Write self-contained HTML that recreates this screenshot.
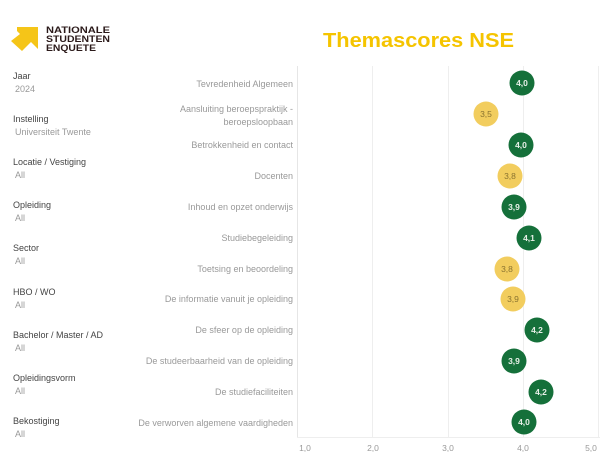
<!DOCTYPE html>
<html><head><meta charset="utf-8"><style>
html,body{margin:0;padding:0;background:#fff;}
svg{display:block;font-family:"Liberation Sans","DejaVu Sans",sans-serif;}
</style></head><body>
<svg width="600" height="460" viewBox="0 0 600 460">
<polygon points="17,27 38,27 38,49 31,42 22,51 11,41 20,34 17,31" fill="#f5c518"/>
<g fill="#2b1a1a" font-weight="bold" font-size="9.6">
<text x="46" y="33" textLength="64" lengthAdjust="spacingAndGlyphs">NATIONALE</text>
<text x="46" y="42" textLength="64" lengthAdjust="spacingAndGlyphs">STUDENTEN</text>
<text x="46" y="51" textLength="50" lengthAdjust="spacingAndGlyphs">ENQUETE</text>
</g>
<text x="323" y="47" font-size="20" font-weight="bold" fill="#f5c400" textLength="191" lengthAdjust="spacingAndGlyphs">Themascores NSE</text>
<g font-size="9">
<g fill="#444">
<text x="13" y="79">Jaar</text>
<text x="13" y="122">Instelling</text>
<text x="13" y="165">Locatie / Vestiging</text>
<text x="13" y="208">Opleiding</text>
<text x="13" y="251">Sector</text>
<text x="13" y="295">HBO / WO</text>
<text x="13" y="338">Bachelor / Master / AD</text>
<text x="13" y="381">Opleidingsvorm</text>
<text x="13" y="424">Bekostiging</text>
</g>
<g fill="#999">
<text x="15" y="92">2024</text>
<text x="15" y="135">Universiteit Twente</text>
<text x="15" y="178">All</text>
<text x="15" y="221">All</text>
<text x="15" y="264">All</text>
<text x="15" y="308">All</text>
<text x="15" y="351">All</text>
<text x="15" y="394">All</text>
<text x="15" y="437">All</text>
</g>
</g>
<g font-size="9" fill="#999" text-anchor="end">
<text x="293" y="87">Tevredenheid Algemeen</text>
<text x="293" y="112">Aansluiting beroepspraktijk -</text>
<text x="293" y="125">beroepsloopbaan</text>
<text x="293" y="148">Betrokkenheid en contact</text>
<text x="293" y="179">Docenten</text>
<text x="293" y="210">Inhoud en opzet onderwijs</text>
<text x="293" y="241">Studiebegeleiding</text>
<text x="293" y="272">Toetsing en beoordeling</text>
<text x="293" y="302">De informatie vanuit je opleiding</text>
<text x="293" y="333">De sfeer op de opleiding</text>
<text x="293" y="364">De studeerbaarheid van de opleiding</text>
<text x="293" y="395">De studiefaciliteiten</text>
<text x="293" y="426">De verworven algemene vaardigheden</text>
</g>
<line x1="297.5" y1="66" x2="297.5" y2="437" stroke="#e6e6e6"/>
<g stroke="#eeeeee">
<line x1="372.5" y1="66" x2="372.5" y2="437"/>
<line x1="448.5" y1="66" x2="448.5" y2="437"/>
<line x1="523.5" y1="66" x2="523.5" y2="437"/>
<line x1="598.5" y1="66" x2="598.5" y2="437"/>
<line x1="297" y1="437.5" x2="600" y2="437.5"/>
</g>
<g font-size="8.5" fill="#999" text-anchor="middle">
<text x="305" y="451">1,0</text>
<text x="373" y="451">2,0</text>
<text x="448" y="451">3,0</text>
<text x="523" y="451">4,0</text>
<text x="591" y="451">5,0</text>
</g>
<g font-size="8.5" font-weight="bold" text-anchor="middle">
<circle cx="522" cy="83" r="12.5" fill="#15703a"/><text x="522" y="86" fill="#e8f0e8">4,0</text>
<circle cx="486" cy="114" r="12.5" fill="#f2cd5e"/><text x="486" y="117" fill="#8a7330" font-weight="normal">3,5</text>
<circle cx="521" cy="145" r="12.5" fill="#15703a"/><text x="521" y="148" fill="#e8f0e8">4,0</text>
<circle cx="510" cy="176" r="12.5" fill="#f2cd5e"/><text x="510" y="179" fill="#8a7330" font-weight="normal">3,8</text>
<circle cx="514" cy="207" r="12.5" fill="#15703a"/><text x="514" y="210" fill="#e8f0e8">3,9</text>
<circle cx="529" cy="238" r="12.5" fill="#15703a"/><text x="529" y="241" fill="#e8f0e8">4,1</text>
<circle cx="507" cy="269" r="12.5" fill="#f2cd5e"/><text x="507" y="272" fill="#8a7330" font-weight="normal">3,8</text>
<circle cx="513" cy="299" r="12.5" fill="#f2cd5e"/><text x="513" y="302" fill="#8a7330" font-weight="normal">3,9</text>
<circle cx="537" cy="330" r="12.5" fill="#15703a"/><text x="537" y="333" fill="#e8f0e8">4,2</text>
<circle cx="514" cy="361" r="12.5" fill="#15703a"/><text x="514" y="364" fill="#e8f0e8">3,9</text>
<circle cx="541" cy="392" r="12.5" fill="#15703a"/><text x="541" y="395" fill="#e8f0e8">4,2</text>
<circle cx="524" cy="422" r="12.5" fill="#15703a"/><text x="524" y="425" fill="#e8f0e8">4,0</text>
</g>
</svg>
</body></html>
